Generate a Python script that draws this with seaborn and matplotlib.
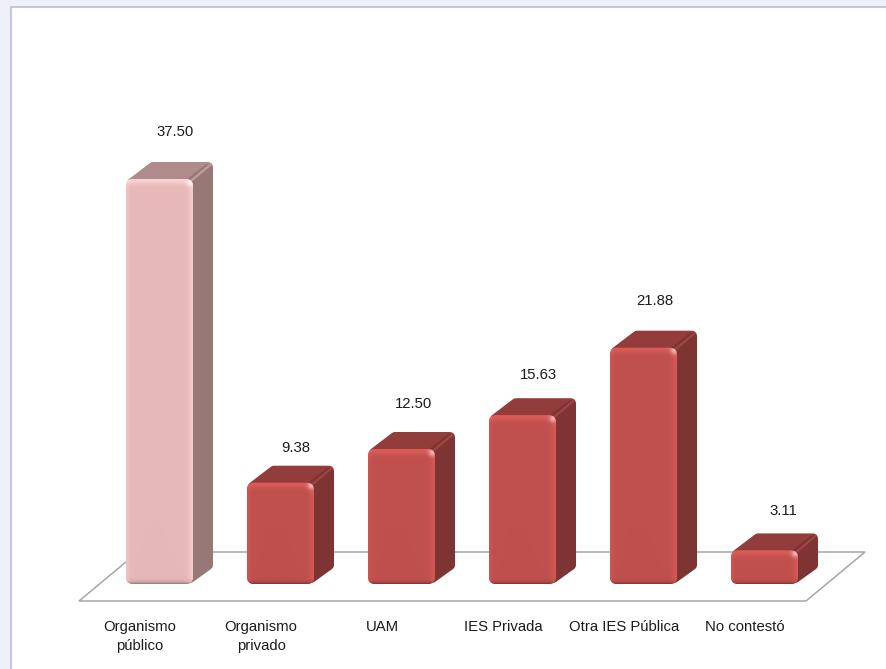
import numpy as np
import pandas as pd
import matplotlib
matplotlib.use("Agg")
import matplotlib.pyplot as plt
import seaborn as sns
from matplotlib.colors import to_rgb
from matplotlib.patches import FancyBboxPatch, Polygon, Rectangle
from matplotlib.transforms import IdentityTransform, ScaledTranslation

# Data
categories = ["Organismo\npúblico", "Organismo\nprivado", "UAM", "IES Privada", "Otra IES Pública", "No contestó"]
values = [37.50, 9.38, 12.50, 15.63, 21.88, 3.11]
value_labels = ["37.50", "9.38", "12.50", "15.63", "21.88", "3.11"]
bar_colors = ["#E6B8B7", "#C0504D", "#C0504D", "#C0504D", "#C0504D", "#C0504D"]

# Style (pixels at 100 dpi)
W, H = 886, 669
DPI = 100
PX = 72 / DPI
AX_L, AX_R, AX_BASE, AX_TOP = 99, 825, 584, 44
DEPTH_X, DEPTH_Y, R = 20, 17, 7
LABEL_GAP = [47, 35, 45, 40, 47, 39]
LABEL_DX = [15.5, 15.5, 12.5, 15.5, 11.5, 18.5]
FONT = 10.7
TEXT = "#1c1c1c"

sns.set_theme(style="white")
plt.rcParams["font.family"] = ["Liberation Sans", "DejaVu Sans"]

fig = plt.figure(figsize=(W / DPI, H / DPI), dpi=DPI, facecolor="#EEF2F8")
ax = fig.add_axes([AX_L / W, 1 - AX_BASE / H, (AX_R - AX_L) / W, (AX_BASE - AX_TOP) / H])
ax.patch.set_alpha(0)

# Slide panel behind the chart
fig.patches.append(Rectangle((11, -5), W + 10, H - 7 + 5, transform=IdentityTransform(),
                             facecolor="white", edgecolor="#B9B5D6", linewidth=1.1, figure=fig, zorder=-5))

df = pd.DataFrame({"categoria": categories, "valor": values})
sns.barplot(data=df, x="categoria", y="valor", hue="categoria", order=categories, hue_order=categories,
            palette=bar_colors, width=0.554, legend=False, saturation=1, ax=ax, linewidth=0, zorder=3)
ax.set_xlim(-0.5, 5.5)
ax.set_ylim(0, 50)
ax.set_xlabel("")
ax.set_ylabel("")
ax.set_yticks([])
sns.despine(ax=ax, left=True, bottom=True)
ax.tick_params(axis="x", length=0, pad=36 * PX, labelsize=FONT, labelcolor=TEXT)
shift = ScaledTranslation(-19.5 / DPI, 0, fig.dpi_scale_trans)
for lab in ax.get_xticklabels():
    lab.set_transform(lab.get_transform() + shift)
    lab.set_linespacing(1.42)

# Floor plate, in pixels from the axes base
yflip = lambda y: H - y
floor = Polygon([(79, yflip(601)), (806, yflip(601)), (865, yflip(552)), (138, yflip(552))],
                closed=True, transform=IdentityTransform(), facecolor="white",
                edgecolor="#A6A6A6", linewidth=1.1, zorder=0, clip_on=False)
ax.add_patch(floor)


def shaded(col, f):
    return np.clip(np.array(to_rgb(col)) * f, 0, 1)


bars = sorted([p for p in ax.patches if isinstance(p, Rectangle) and p is not floor], key=lambda p: p.get_x())
for bar, col, txt, gap, ldx in zip(bars, bar_colors, value_labels, LABEL_GAP, LABEL_DX):
    (x0, y0) = ax.transData.transform((bar.get_x(), 0))
    (x1, y1) = ax.transData.transform((bar.get_x() + bar.get_width(), bar.get_height()))
    s = 5  # half of the round stroke
    stroke = 2 * s * PX
    top_col = shaded(col, 0.76)
    side_col = shaded(col, 0.65)
    top = Polygon([(x0 + 6, y1 - 4), (x0 + 27, y1 + DEPTH_Y - s), (x1 + DEPTH_X - s, y1 + DEPTH_Y - s),
                   (x1 - 3, y1 - 4)], closed=True, transform=IdentityTransform(),
                  facecolor=top_col, edgecolor=top_col, linewidth=stroke,
                  joinstyle="round", zorder=1, clip_on=False)
    side = Polygon([(x1 - 3, y0 + 6), (x1 + DEPTH_X - s, y0 + 19), (x1 + DEPTH_X - s, y1 + DEPTH_Y - s - 2),
                    (x1 - 3, y1 - 4)], closed=True, transform=IdentityTransform(),
                   facecolor=side_col, edgecolor=side_col, linewidth=stroke,
                   joinstyle="round", zorder=2, clip_on=False)
    ax.add_patch(top)
    ax.add_patch(side)
    ax.plot([x1 - 1, x1 + DEPTH_X - 3], [y1 - 1, y1 + DEPTH_Y - 3], transform=IdentityTransform(),
            color=shaded(col, 0.85), lw=1.6, zorder=2.5, clip_on=False, solid_capstyle="round")

    # Rounded front face: seaborn's bar clipped to a rounded box
    box = FancyBboxPatch((x0 + R, y0 + R), x1 - x0 - 2 * R, y1 - y0 - 2 * R,
                         boxstyle=f"round,pad={R},rounding_size={R}", mutation_scale=1,
                         transform=IdentityTransform())
    bar.set_clip_path(box)
    bar.set_zorder(3)

    # Bevel shading over the front face
    w, h = int(round(x1 - x0)), int(round(y1 - y0))
    yy, xx = np.mgrid[0:h, 0:w]
    from_top, from_bottom = yy, h - 1 - yy
    from_left, from_right = xx, w - 1 - xx
    light = np.clip(0.75 * np.exp(-(from_top / 5.0) ** 2) + 0.55 * np.exp(-(from_right / 5.0) ** 2)
                    + 0.30 * np.exp(-(from_left / 3.0) ** 2), 0, 1)
    spot = 0.55 * np.exp(-((from_top - 3.0) ** 2 + (from_right - 3.0) ** 2) / 14.0)
    dark = 0.75 * np.exp(-from_bottom / 1.6)
    hi = shaded(col, 1.2)
    lo = shaded(col, 0.6)
    rgb = np.array(to_rgb(col))[None, None, :] * np.ones((h, w, 3))
    rgb = rgb + light[..., None] * (hi - rgb)
    rgb = rgb + spot[..., None] * (1.0 - rgb)
    rgb = rgb + dark[..., None] * (lo - rgb)
    rgba = np.dstack([rgb, np.ones((h, w))])
    im = ax.imshow(rgba, extent=(bar.get_x(), bar.get_x() + bar.get_width(), 0, bar.get_height()),
                   origin="upper", aspect="auto", zorder=4, interpolation="bilinear")
    im.set_clip_path(box)

    ax.annotate(txt, xy=(bar.get_x() + bar.get_width() / 2, bar.get_height()), xycoords="data",
                xytext=(ldx * PX, gap * PX), textcoords="offset points", ha="center", va="center",
                fontsize=FONT, color=TEXT, annotation_clip=False)

ax.set_xlim(-0.5, 5.5)
ax.set_ylim(0, 50)
fig.savefig("out.png", dpi=DPI, facecolor=fig.get_facecolor())
